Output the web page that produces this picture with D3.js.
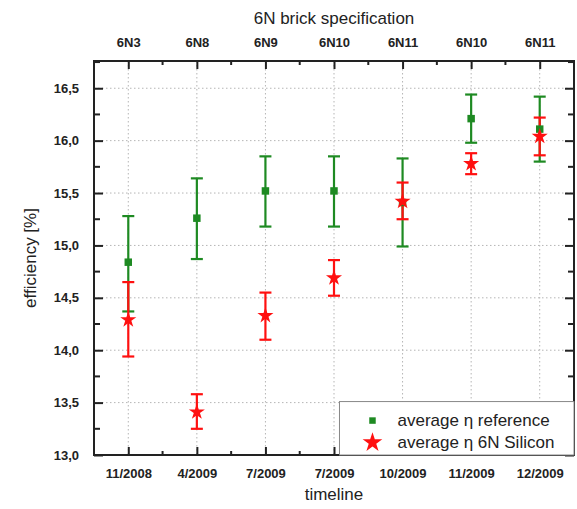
<!DOCTYPE html>
<html>
<head>
<meta charset="utf-8">
<script src="https://cdn.jsdelivr.net/npm/d3@7"></script>
<style>
  body { margin: 0; background: #fff; }
  svg { display: block; font-family: "Liberation Sans", Arial, sans-serif; }
</style>
</head>
<body>
<svg id="chart" width="577" height="509"></svg>
<script>
const timeline = ['11/2008', '4/2009', '7/2009', '7/2009', '10/2009', '11/2009', '12/2009'];
const bricks = ['6N3', '6N8', '6N9', '6N10', '6N11', '6N10', '6N11'];

// average efficiency of reference wafers [%] with error bar ends
const refMean = [14.84, 15.26, 15.52, 15.52, 15.41, 16.21, 16.11];
const refLow  = [14.37, 14.87, 15.18, 15.18, 14.99, 15.98, 15.80];
const refHigh = [15.28, 15.64, 15.85, 15.85, 15.83, 16.44, 16.42];

// average efficiency of 6N silicon wafers [%]
const siMean = [14.29, 13.41, 14.33, 14.69, 15.42, 15.78, 16.04];
const siLow  = [13.94, 13.25, 14.10, 14.52, 15.25, 15.68, 15.86];
const siHigh = [14.65, 13.58, 14.55, 14.86, 15.60, 15.88, 16.22];

const yTicks = [13.0, 13.5, 14.0, 14.5, 15.0, 15.5, 16.0, 16.5];

const margin = { top: 61, right: 3, bottom: 54, left: 94 };
const W = 577, H = 509;
const width = W - margin.left - margin.right;
const height = H - margin.top - margin.bottom;

const svg = d3.select('#chart');
const g = svg.append('g').attr('transform', `translate(${margin.left},${margin.top})`);

const idx = d3.range(1, timeline.length + 1);
const x = d3.scaleLinear().domain([0.5, 7.5]).range([0, width]);
const y = d3.scaleLinear().domain([13, 16.76]).range([height, 0]);
const fmt = v => d3.format('.1f')(v).replace('.', ',');

const green = '#1e8a22', red = '#ff1010';

// Grid
g.append('g').selectAll('line').data(yTicks.slice(1)).enter().append('line')
    .attr('x1', 0).attr('x2', width).attr('y1', d => y(d)).attr('y2', d => y(d))
    .attr('stroke', '#b5b5b5').attr('stroke-width', 1).attr('stroke-dasharray', '1.5,2.5');
g.append('g').selectAll('line').data(idx).enter().append('line')
    .attr('y1', 0).attr('y2', height).attr('x1', d => x(d)).attr('x2', d => x(d))
    .attr('stroke', '#b5b5b5').attr('stroke-width', 1).attr('stroke-dasharray', '1.5,2.5');

// Axes (inward ticks)
const minorX = d3.range(1.5, 7, 1);
const minorY = d3.range(13.25, 16.76, 0.5);
const styleAxis = sel => {
    sel.select('.domain').remove();
    sel.selectAll('line').attr('stroke', '#222').attr('stroke-width', 2);
    sel.selectAll('text').attr('font-size', '13px').attr('font-weight', 'bold').attr('fill', '#222');
};

const axBottom = g.append('g').attr('transform', `translate(0,${height})`)
    .call(d3.axisBottom(x).tickValues(idx).tickSize(-8).tickPadding(14).tickFormat(d => timeline[d - 1]));
styleAxis(axBottom);
const axTop = g.append('g')
    .call(d3.axisTop(x).tickValues(idx).tickSize(-8).tickPadding(14).tickFormat(d => bricks[d - 1]));
styleAxis(axTop);
const axLeft = g.append('g')
    .call(d3.axisLeft(y).tickValues(yTicks).tickSize(-9).tickPadding(15).tickFormat(fmt));
styleAxis(axLeft);
const axRight = g.append('g').attr('transform', `translate(${width},0)`)
    .call(d3.axisRight(y).tickValues(yTicks).tickSize(-9).tickFormat(''));
styleAxis(axRight);

// Minor ticks
const minor = g.append('g').attr('stroke', '#222').attr('stroke-width', 2);
minorX.forEach(v => {
    minor.append('line').attr('x1', x(v)).attr('x2', x(v)).attr('y1', 0).attr('y2', 4);
    minor.append('line').attr('x1', x(v)).attr('x2', x(v)).attr('y1', height).attr('y2', height - 4);
});
minorY.forEach(v => {
    minor.append('line').attr('y1', y(v)).attr('y2', y(v)).attr('x1', 0).attr('x2', 6);
    minor.append('line').attr('y1', y(v)).attr('y2', y(v)).attr('x1', width).attr('x2', width - 6);
});

// Frame
g.append('rect').attr('width', width).attr('height', height)
    .attr('fill', 'none').attr('stroke', '#222').attr('stroke-width', 2);

// Error bars
function errorBars(mean, low, high, color) {
    const eb = g.append('g').attr('stroke', color).attr('stroke-width', 2.2);
    mean.forEach((m, i) => {
        const cx = x(i + 1);
        eb.append('line').attr('x1', cx).attr('x2', cx).attr('y1', y(low[i])).attr('y2', y(high[i]));
        [low[i], high[i]].forEach(v => {
            eb.append('line').attr('x1', cx - 6).attr('x2', cx + 6).attr('y1', y(v)).attr('y2', y(v));
        });
    });
}
errorBars(refMean, refLow, refHigh, green);
errorBars(siMean, siLow, siHigh, red);

// Markers
g.append('g').selectAll('path').data(refMean).enter().append('path')
    .attr('transform', (d, i) => `translate(${x(i + 1)},${y(d)})`)
    .attr('d', d3.symbol().type(d3.symbolSquare).size(56))
    .attr('fill', green);
g.append('g').selectAll('path').data(siMean).enter().append('path')
    .attr('transform', (d, i) => `translate(${x(i + 1)},${y(d)})`)
    .attr('d', d3.symbol().type(d3.symbolStar).size(80))
    .attr('fill', red);

// Legend
const lgX = x(4.08), lgY = y(13.51);
const lg = g.append('g').attr('transform', `translate(${lgX},${lgY})`);
lg.append('rect').attr('width', width - lgX).attr('height', height - lgY)
    .attr('fill', '#fff').attr('stroke', '#888').attr('stroke-width', 1);
lg.append('path').attr('transform', 'translate(33,19)')
    .attr('d', d3.symbol().type(d3.symbolSquare).size(42)).attr('fill', green);
lg.append('path').attr('transform', 'translate(33,41)')
    .attr('d', d3.symbol().type(d3.symbolStar).size(120)).attr('fill', red);
lg.append('text').attr('x', 58).attr('y', 24).attr('font-size', '17px').attr('fill', '#222')
    .text('average η reference');
lg.append('text').attr('x', 58).attr('y', 46).attr('font-size', '17px').attr('fill', '#222')
    .text('average η 6N Silicon');

// Axis titles
svg.append('text').attr('x', margin.left + width / 2).attr('y', 24)
    .attr('text-anchor', 'middle').attr('font-size', '17px').attr('fill', '#222')
    .text('6N brick specification');
svg.append('text').attr('x', margin.left + width / 2).attr('y', 500)
    .attr('text-anchor', 'middle').attr('font-size', '17px').attr('fill', '#222')
    .text('timeline');
svg.append('text').attr('transform', 'rotate(-90)')
    .attr('x', -(margin.top + height / 2)).attr('y', 36)
    .attr('text-anchor', 'middle').attr('font-size', '17px').attr('fill', '#222')
    .text('efficiency [%]');
</script>
</body>
</html>
